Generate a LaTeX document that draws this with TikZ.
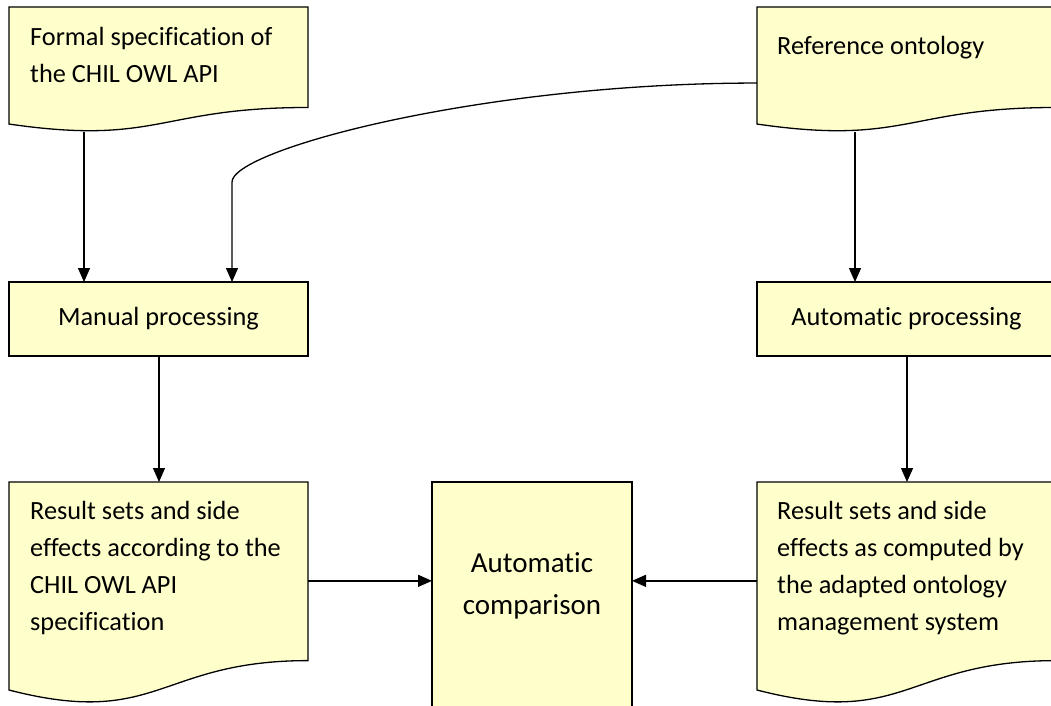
\documentclass[tikz,border=0pt]{standalone}
\usepackage{fontspec}
\setmainfont{Carlito}[Ligatures=NoCommon]
\usetikzlibrary{arrows.meta,calc}

\definecolor{paper}{RGB}{255,255,204}

\tikzset{
  x=1pt, y=-1pt,
  shapeline/.style={draw=black, line width=1.3pt, fill=paper, line join=miter},
  docarea/.style={rectangle, minimum width=299pt, inner sep=0pt, outer sep=0pt},
  procbox/.style={rectangle, shapeline, minimum width=299pt, minimum height=74pt,
    inner sep=0pt, outer sep=0pt, font=\fontsize{26.3}{37}\selectfont},
  doctext/.style={anchor=north west, inner sep=0pt, align=left,
    font=\fontsize{26.3}{37}\selectfont},
  arr/.style={draw=black, line width=1.3pt, -{Triangle[length=14pt,width=12pt]}},
}

% wavy-bottom document outline drawn over a named rectangle node
\newcommand\docoutline[1]{%
  \draw[shapeline] (#1.north west) -- (#1.north east)
    -- ($(#1.north east)!0.802!(#1.south east)$)
    .. controls ($(#1.north)!0.802!(#1.south)$) and ($(#1.north)!1.1075!(#1.south)$)
    .. ($(#1.north west)!0.934!(#1.south west)$) -- cycle;}

\begin{document}
\begin{tikzpicture}
\useasboundingbox (0,0) rectangle (1051,706);
\clip (0,0) rectangle (1051,706);

% documents
\node[docarea, minimum height=125.3pt] (formal) at (158.5,69.65) {};
\node[docarea, minimum height=125.3pt] (refonto) at (906.5,69.65) {};
\node[docarea, minimum height=222.7pt] (resleft) at (158.5,593.35) {};
\node[docarea, minimum height=222.7pt] (resright) at (906.5,593.35) {};
\docoutline{formal}
\docoutline{refonto}
\docoutline{resleft}
\docoutline{resright}

\node[doctext] (formaltxt) at (30,24) {\rule{0pt}{21pt}Formal specification of\\the CHIL OWL API};
\node[doctext] (reftxt) at (777,33) {\rule{0pt}{21pt}Reference ontology};
\node[doctext] (reslefttxt) at (30,498) {\rule{0pt}{21pt}Result sets and side\\effects according to the\\CHIL OWL API\\specification};
\node[doctext] (resrighttxt) at (777,498) {\rule{0pt}{21pt}Result sets and side\\effects as computed by\\the adapted ontology\\management system};

% processing steps
\node[procbox] (manual) at (158.5,319) {Manual processing};
\node[procbox] (auto) at (906.5,319) {Automatic processing};

% comparison box
\node[rectangle, shapeline, minimum width=200pt, minimum height=240pt, inner sep=0pt, outer sep=0pt,
  anchor=north] (comp) at (532,482) {};
\node[anchor=north, inner sep=0pt, align=center, font=\fontsize{29}{42}\selectfont]
  (comptxt) at (532,549) {\rule{0pt}{23pt}Automatic\\comparison};

% connectors
\draw[arr] ([xshift=75pt]formal.south west) -- ([xshift=75pt]manual.north west);
\draw[arr] ([yshift=-13.4pt]refonto.west) .. controls (480,83) and (232,150) .. (232,182)
  -- ([xshift=223pt]manual.north west);
\draw[arr] ([xshift=98pt]refonto.south west) -- ([xshift=98pt]auto.north west);
\draw[arr] ([xshift=150pt]manual.south west) -- ([xshift=150pt]resleft.north west);
\draw[arr] ([xshift=150pt]auto.south west) -- ([xshift=150pt]resright.north west);
\draw[arr] ([yshift=12.5pt]resleft.east) -- ([yshift=12.5pt]resleft.east -| comp.west);
\draw[arr] ([yshift=12.5pt]resright.west) -- ([yshift=12.5pt]resright.west -| comp.east);
\end{tikzpicture}
\end{document}
